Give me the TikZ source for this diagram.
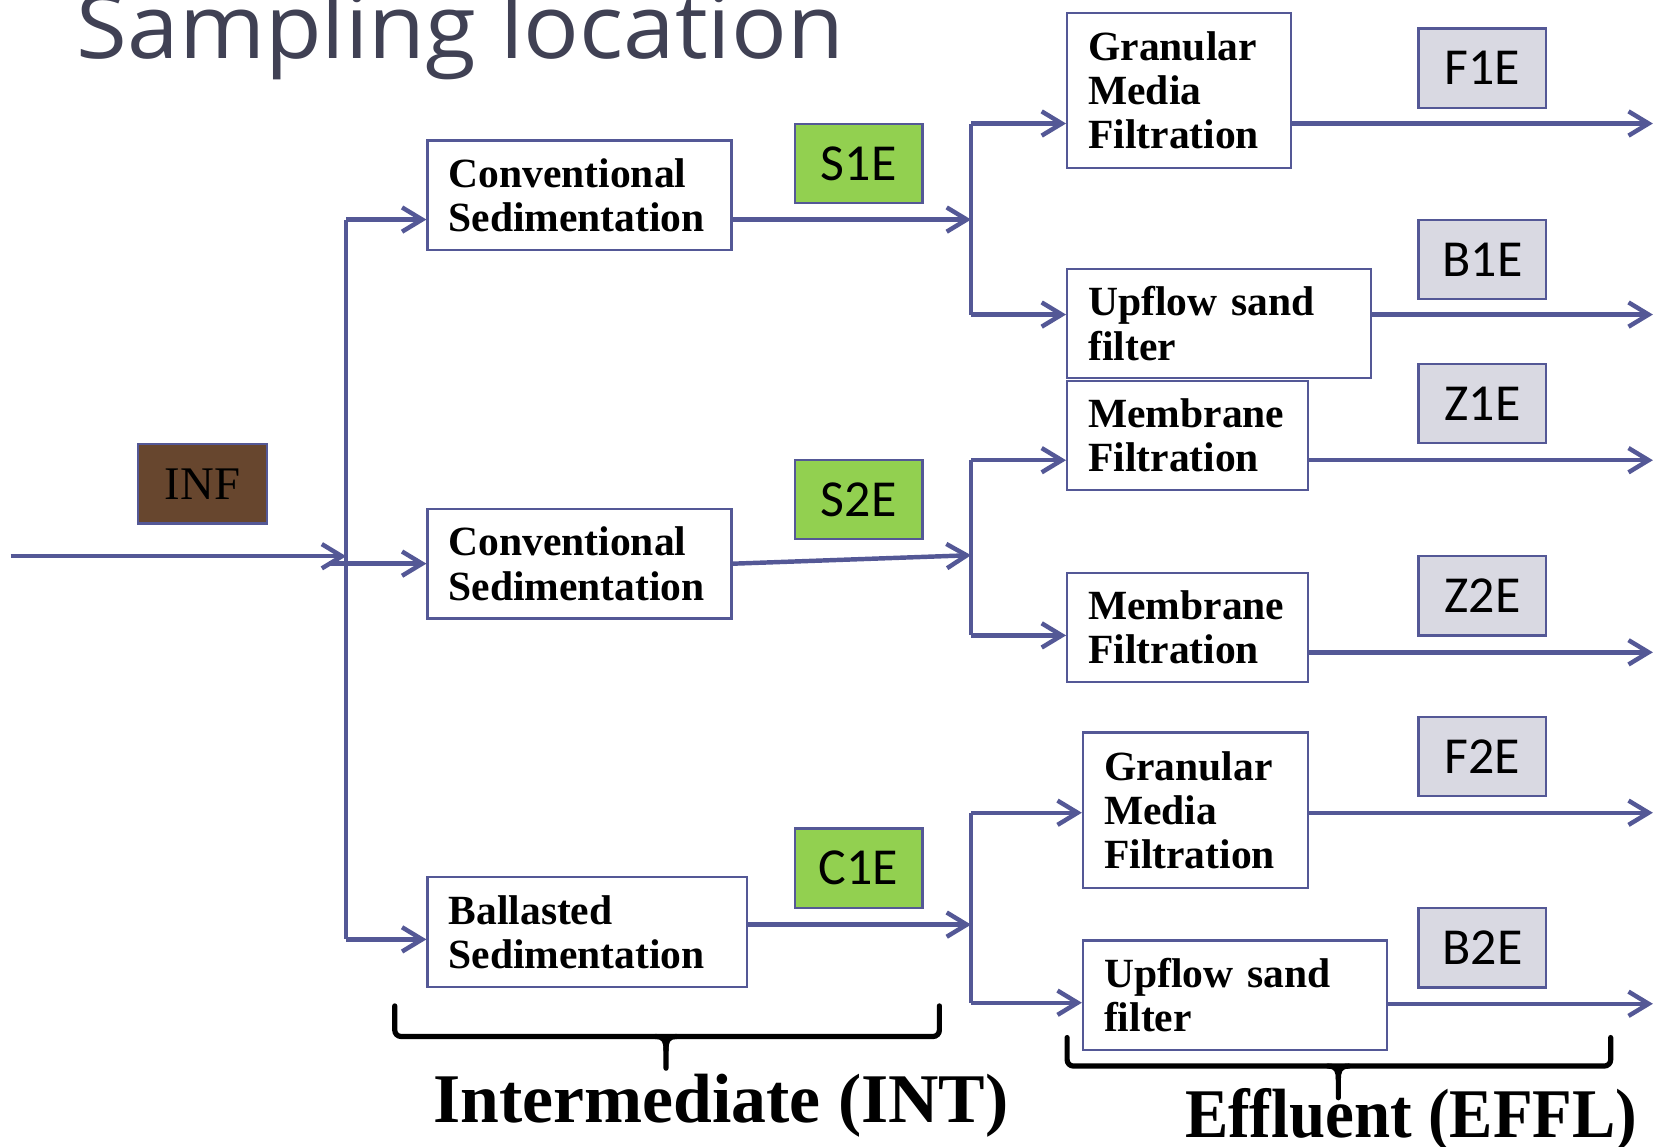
\documentclass[tikz,border=0pt]{standalone}
\usepackage{fontspec}
\setmainfont{Liberation Serif}
\newfontfamily\titlefont{Open Sans}
\newfontfamily\tagfont{Carlito}
\usetikzlibrary{arrows.meta}
\usetikzlibrary{calc}
\usetikzlibrary{positioning}

\definecolor{flowline}{RGB}{84,88,150}
\definecolor{titlegray}{RGB}{64,65,84}
\definecolor{infbrown}{RGB}{103,70,46}
\definecolor{tapgreen}{RGB}{146,208,80}
\definecolor{tapgray}{RGB}{217,217,226}

\begin{document}
\begin{tikzpicture}[
  x=0.1mm, y=-0.1mm,
  > = {Straight Barb[length=1.9mm,width=2.3mm]},
  flow/.style = {draw=flowline, line width=1.2pt},
  unit/.style = {draw=flowline, line width=0.6pt, fill=white, anchor=north west,
     align=left, inner xsep=2mm, inner ysep=0pt,
     font=\fontsize{11.2}{11.95}\selectfont\bfseries},
  tap/.style = {draw=flowline, line width=0.6pt, minimum width=12.1mm, minimum height=7.5mm,
     inner sep=0pt, font=\tagfont\fontsize{14}{16}\selectfont},
  brace/.style = {draw=black, line width=1.4pt, line cap=round, rounded corners=0.6mm}
  ]
	\useasboundingbox (0,0) rectangle (1568,1086);
	\clip (0,0) rectangle (1568,1086);

	\node[anchor=base west, inner sep=0pt, text=titlegray,
	  font=\titlefont\fontsize{24}{28}\selectfont] (title) at (72,55) {\scalebox{1.04}[1]{Sampling location}};

	% process units
	\node[unit, text width=24.8mm, minimum height=10.4mm] (CS1) at (404,132) {Conventional\\Sedimentation};
	\node[unit, text width=24.8mm, minimum height=10.4mm] (CS2) at (404,481) {Conventional\\Sedimentation};
	\node[unit, text width=26.3mm, minimum height=10.4mm] (BS) at (404,830) {Ballasted\\Sedimentation};
	\node[unit, text width=17.2mm, minimum height=14.7mm] (GMF1) at (1010,11) {Granular\\Media\\Filtration};
	\node[unit, text width=24.8mm, minimum height=10.3mm] (USF1) at (1010,254) {Upflow sand\\filter};
	\node[unit, text width=18.8mm, minimum height=10.3mm] (MF1) at (1010,360) {Membrane\\Filtration};
	\node[unit, text width=18.8mm, minimum height=10.3mm] (MF2) at (1010,542) {Membrane\\Filtration};
	\node[unit, text width=17.3mm, minimum height=14.7mm] (GMF2) at (1025,693) {Granular\\Media\\Filtration};
	\node[unit, text width=24.8mm, minimum height=10.4mm] (USF2) at (1025,890) {Upflow sand\\filter};

	% sampling points
	\node[tap, fill=infbrown, minimum width=12.2mm, font=\fontsize{12.6}{14}\selectfont] (INF) at (192,458.5) {INF};
	\node[tap, fill=tapgreen] (S1E) at (813.5,155) {S1E};
	\node[tap, fill=tapgreen] (S2E) at (813.5,473.5) {S2E};
	\node[tap, fill=tapgreen] (C1E) at (813.5,822.5) {C1E};
	\node[tap, fill=tapgray] (F1E) at (1404.5,64.5) {F1E};
	\node[tap, fill=tapgray] (B1E) at (1404.5,246) {B1E};
	\node[tap, fill=tapgray] (Z1E) at (1404.5,382.5) {Z1E};
	\node[tap, fill=tapgray] (Z2E) at (1404.5,564.5) {Z2E};
	\node[tap, fill=tapgray] (F2E) at (1404.5,716.5) {F2E};
	\node[tap, fill=tapgray] (B2E) at (1404.5,898) {B2E};

	% influent split
	\coordinate (src) at (10,527);
	\coordinate (splitA) at (328,527);
	\coordinate (splitTop) at (328,208);
	\coordinate (splitMid) at (312,534);
	\coordinate (splitBot) at (328,890);
	\draw[flow,->] (src) -- (splitA);
	\draw[flow] (splitTop) -- (splitBot);
	\draw[flow,->] (splitTop) -- (splitTop -| CS1.west);
	\draw[flow,->] (splitMid) -- (splitMid -| CS2.west);
	\draw[flow,->] (splitBot) -- (splitBot -| BS.west);

	% second stage
	\coordinate (joinB) at (920,208);
	\coordinate (joinC) at (920,526);
	\coordinate (joinD) at (920,876);
	\draw[flow,->] (joinB -| CS1.east) -- (joinB);
	\draw[flow,->] (CS2.east) -- (joinC);
	\draw[flow,->] (joinD -| BS.east) -- (joinD);

	\foreach \top/\bot/\up/\dn in {117/298/GMF1/USF1, 436/602/MF1/MF2, 770/950/GMF2/USF2}
	{
		\draw[flow] (920,\top) -- (920,\bot);
		\draw[flow,->] (920,\top) -- (\up.west |- 0,\top);
		\draw[flow,->] (920,\bot) -- (\dn.west |- 0,\bot);
	}

	% effluent lines
	\foreach \b/\y in {GMF1/117, USF1/298, MF1/436, MF2/618, GMF2/770, USF2/951}
		\draw[flow,->] (\b.east |- 0,\y) -- (1566,\y);

	% groups
	\draw[brace] (374,953) |- (890,982) -- (890,953);
	\draw[brace, rounded corners=0pt] (621,982) .. controls (630,982) and (631,987) .. (631,995) -- (631,1012);
	\draw[brace, rounded corners=0pt] (641,982) .. controls (632,982) and (631,987) .. (631,995);
	\node[anchor=base west, inner sep=0pt, font=\fontsize{18.8}{22}\selectfont\bfseries] (intlbl) at (410,1063) {Intermediate (INT)};

	\draw[brace] (1011,983) |- (1526,1010) -- (1526,983);
	\draw[brace, rounded corners=0pt] (1258,1010) .. controls (1267,1010) and (1268,1015) .. (1268,1023) -- (1268,1040);
	\draw[brace, rounded corners=0pt] (1278,1010) .. controls (1269,1010) and (1268,1015) .. (1268,1023);
	\node[anchor=base west, inner sep=0pt, font=\fontsize{18.8}{22}\selectfont\bfseries] (efflbl) at (1122,1078) {\scalebox{0.93}[1]{Effluent (EFFL)}};

\end{tikzpicture}
\end{document}
